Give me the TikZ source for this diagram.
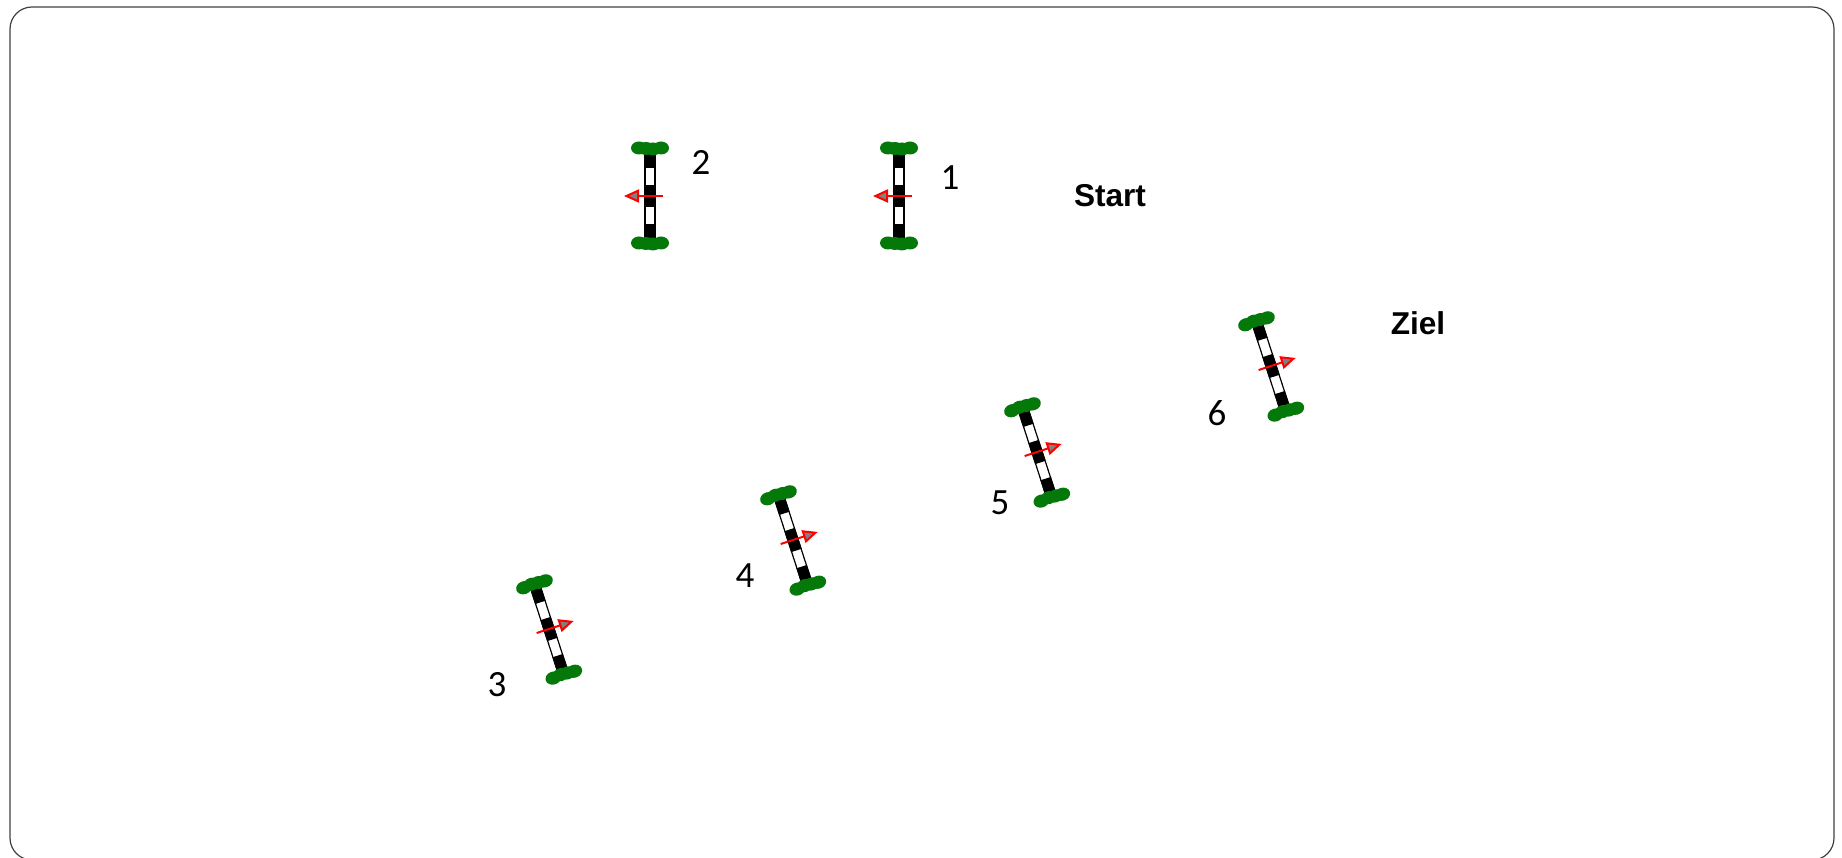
\documentclass[tikz,border=0pt]{standalone}
\usepackage{fontspec}
\setmainfont{Carlito}
\newfontfamily\labelfont{Liberation Sans}
\usetikzlibrary{arrows.meta}
\definecolor{bushgreen}{RGB}{5,120,10}
\tikzset{
    number/.style={font=\fontsize{18.5}{20}\selectfont, inner sep=0pt},
    place/.style={font=\labelfont\bfseries\fontsize{15.8}{18}\selectfont, inner sep=0pt},
    gate/.pic={
        % Bar
        \draw[black, fill=white, line width=0.6pt] (-5,-43.5) rectangle (5,43.5);
        \foreach \a/\b in {-43.5/-28, -11/11, 28/43.5} {
            \fill[black] (-5.5,\a) rectangle (5.5,\b);
        }
        % Bushes
        \foreach \s in {-1,1} {
            \foreach \x/\y in {-11/-0.5, -3/0.5, 4/0, 11/-0.5} {
                \fill[bushgreen] (\x,\s*47.5+\y) ellipse (8 and 6.5);
            }
        }
        % Direction
        \draw[red, line width=1pt, -{Triangle[length=7.5pt, width=6.5pt, fill=gray]}] (-13,0) -- (26,0);
    }
}
\begin{document}
\begin{tikzpicture}[x=0.5pt, y=0.5pt]
    \useasboundingbox (0,0) rectangle (1842,857);
    % Frame
    \draw[black!75, line width=0.6pt, rounded corners=11pt] (10,-3) rectangle (1834,850);

    % Gates
    \foreach \x/\y/\r in {899/661/180, 650/661/180, 549/228/18, 793/317/18, 1037/405/18, 1271/491/18} {
        \pic[rotate=\r] at (\x,\y) {gate};
    }

    % Numbers
    \node[number] (n1) at (950,679) {1};
    \node[number] (n2) at (701,694) {2};
    \node[number] (n3) at (497,172) {3};
    \node[number] (n4) at (745,281) {4};
    \node[number] (n5) at (1000,354) {5};
    \node[number] (n6) at (1217,444) {6};

    % Start and Ziel
    \node[place] (start) at (1110,661) {Start};
    \node[place] (ziel) at (1418,534) {Ziel};
\end{tikzpicture}
\end{document}
